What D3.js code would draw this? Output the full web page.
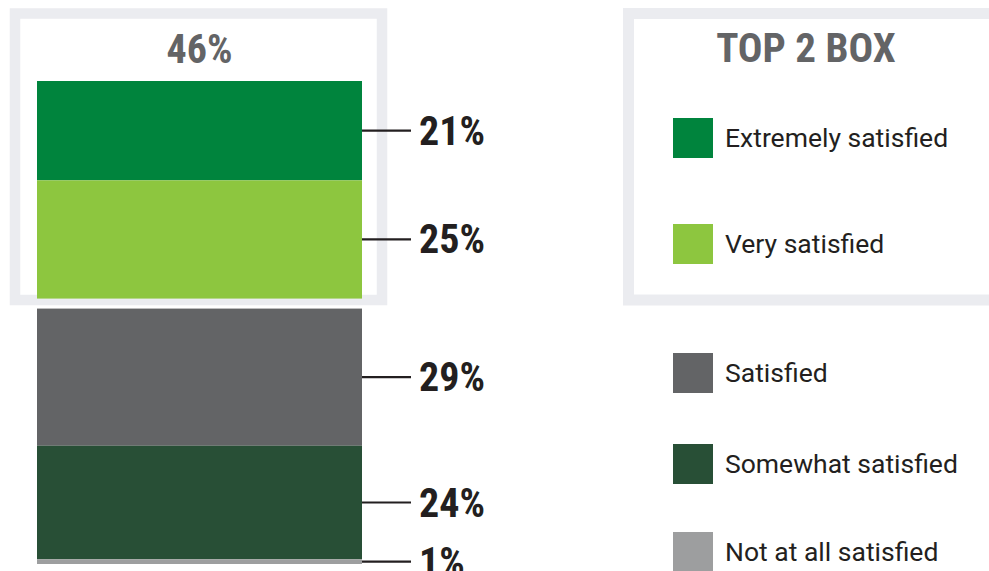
<!DOCTYPE html>
<html>
<head>
<meta charset="utf-8">
<script src="https://cdn.jsdelivr.net/npm/d3@7"></script>
<style>
  body { margin: 0; background: white; }
  svg { display: block; }
</style>
</head>
<body>
<div id="container"></div>
<script>
let w = 989;
let h = 571;

// data
let categories = ["Extremely satisfied", "Very satisfied", "Satisfied", "Somewhat satisfied", "Not at all satisfied"];
let values = [21, 25, 29, 24, 1];
let colors = ["#00843d", "#8dc63f", "#636466", "#284f36", "#9d9e9f"];
let topBoxCount = 2;
let topBoxTotal = "46%";
let legendTitle = "TOP 2 BOX";

let condensed = "'Liberation Sans Narrow', 'Roboto Condensed', 'DejaVu Sans Condensed', 'Arial Narrow', sans-serif";
let regular = "Roboto, 'Liberation Sans', sans-serif";
let frame = "#ebecf0";
let ink = "#231f20";

let viz = d3.select("#container").append("svg")
    .attr("width", w)
    .attr("height", h)
    .style("background-color", "white");

// frames behind everything
viz.append("rect")
    .attr("x", 15).attr("y", 13.5)
    .attr("width", 367).attr("height", 286.5)
    .attr("fill", "white")
    .attr("stroke", frame)
    .attr("stroke-width", 10.5);

viz.append("rect")
    .attr("x", 628.5).attr("y", 13.5)
    .attr("width", 400).attr("height", 286.5)
    .attr("fill", "white")
    .attr("stroke", frame)
    .attr("stroke-width", 11);

// SCALES
let barTop = 81;
let gap = 10;
let yScale = d3.scaleLinear().domain([0, 100]).range([0, 473]);
let xBar = d3.scaleBand().domain(["bar"]).range([37, 362]).padding(0);

// stack positions
let stacked = [];
let acc = 0;
values.forEach(function(v, i) {
  let extra = i >= topBoxCount ? gap : 0;
  let y0 = barTop + yScale(acc) + extra;
  let y1 = barTop + yScale(acc + v) + extra;
  stacked.push({ name: categories[i], value: v, color: colors[i], y0: y0, y1: y1 });
  acc += v;
});

viz.selectAll(".seg").data(stacked).enter()
  .append("rect")
    .attr("class", "seg")
    .attr("x", xBar("bar"))
    .attr("width", xBar.bandwidth())
    .attr("y", function(d){ return d.y0; })
    .attr("height", function(d){ return d.y1 - d.y0; })
    .attr("fill", function(d){ return d.color; });

// leader lines + labels
let lineEnd = 411;
viz.selectAll(".leader").data(stacked).enter()
  .append("line")
    .attr("class", "leader")
    .attr("x1", xBar("bar") + xBar.bandwidth())
    .attr("x2", lineEnd)
    .attr("y1", function(d){ return (d.y0 + d.y1) / 2; })
    .attr("y2", function(d){ return (d.y0 + d.y1) / 2; })
    .attr("stroke", ink)
    .attr("stroke-width", 2.2);

viz.selectAll(".val").data(stacked).enter()
  .append("text")
    .attr("class", "val")
    .attr("x", lineEnd + 8)
    .attr("y", function(d){ return (d.y0 + d.y1) / 2 + 14; })
    .attr("font-family", condensed)
    .attr("font-weight", "bold")
    .attr("font-size", 40)
    .attr("fill", ink)
    .text(function(d){ return d.value + "%"; });

// top 2 total
viz.append("text")
    .attr("x", xBar("bar") + xBar.bandwidth() / 2)
    .attr("y", 63)
    .attr("text-anchor", "middle")
    .attr("font-family", condensed)
    .attr("font-weight", "bold")
    .attr("font-size", 40)
    .attr("fill", "#636466")
    .text(topBoxTotal);

// LEGEND
viz.append("text")
    .attr("x", 806)
    .attr("y", 62)
    .attr("text-anchor", "middle")
    .attr("font-family", condensed)
    .attr("font-weight", "bold")
    .attr("font-size", 41)
    .attr("fill", "#636466")
    .text(legendTitle);

let legendY = [118, 224, 353, 444, 532];
let legend = viz.selectAll(".legend").data(stacked).enter()
  .append("g")
    .attr("class", "legend")
    .attr("transform", function(d, i){ return "translate(673," + legendY[i] + ")"; });

legend.append("rect")
    .attr("width", 40)
    .attr("height", 40)
    .attr("fill", function(d){ return d.color; });

legend.append("text")
    .attr("x", 52)
    .attr("y", 29)
    .attr("font-family", regular)
    .attr("font-size", 26.5)
    .attr("fill", ink)
    .text(function(d){ return d.name; });
</script>
</body>
</html>
